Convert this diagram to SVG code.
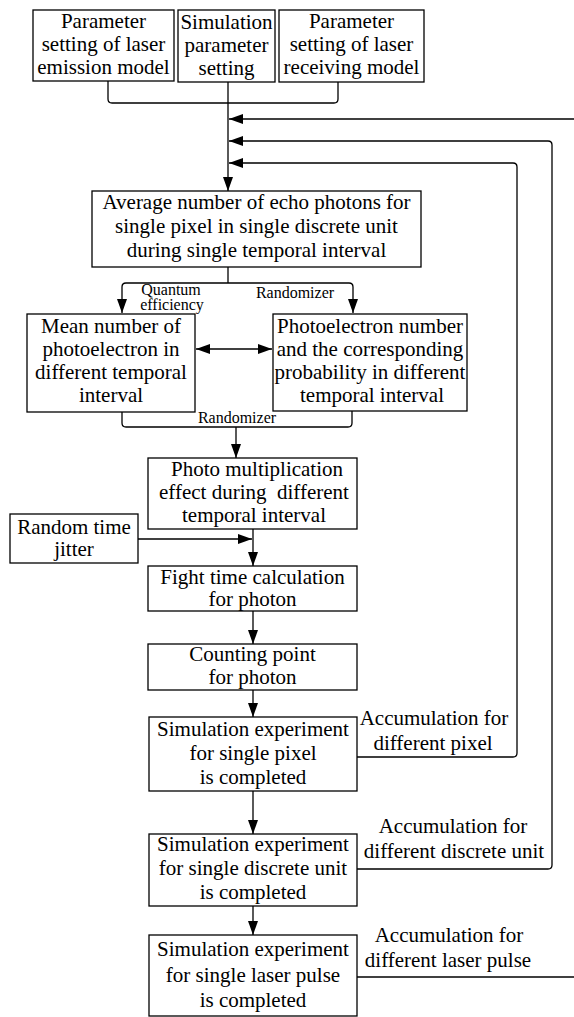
<svg xmlns="http://www.w3.org/2000/svg" width="574" height="1017" viewBox="0 0 574 1017" font-family="Liberation Serif, Times New Roman, DejaVu Serif, serif">
<defs>
<marker id="ah" viewBox="0 0 14 10" refX="14" refY="5" markerWidth="14" markerHeight="10" orient="auto-start-reverse" markerUnits="userSpaceOnUse"><path d="M0,0 L14,5 L0,10 z" fill="#000"/></marker>
</defs>
<style>
rect.box{fill:#fff;stroke:#000;stroke-width:1.3}
text{font-family:'Liberation Serif','Times New Roman','DejaVu Serif',serif;fill:#000}
text.t{font-size:21px;text-anchor:middle}
text.s{font-size:16px;text-anchor:middle}
#connectors path{fill:none;stroke:#000;stroke-width:1.3}
</style>
<rect width="574" height="1017" fill="#fff"/>
<g id="connectors">
<path d="M108,81 V99 Q108,103 112,103 H334 Q338,103 338,99 V82"/>
<path d="M228,82 V191" marker-end="url(#ah)"/>
<path d="M575,119 H229" marker-end="url(#ah)"/>
<path d="M357,869 H548 Q552,869 552,865 V145 Q552,141 548,141 H229" marker-end="url(#ah)"/>
<path d="M357,757 H513 Q517,757 517,753 V167 Q517,163 513,163 H229" marker-end="url(#ah)"/>
<path d="M357,977 H575"/>
<path d="M228,267 V283"/>
<path d="M122,313 V287 Q122,283 126,283 H349 Q353,283 353,287 V313" marker-start="url(#ah)" marker-end="url(#ah)"/>
<path d="M196,349 H272" marker-start="url(#ah)" marker-end="url(#ah)"/>
<path d="M122,412 V423 Q122,427 126,427 H348 Q352,427 352,423 V411"/>
<path d="M236,427 V458" marker-end="url(#ah)"/>
<path d="M138,539 H252" marker-end="url(#ah)"/>
<path d="M253,529 V566" marker-end="url(#ah)"/>
<path d="M253,611 V644" marker-end="url(#ah)"/>
<path d="M253,690 V717" marker-end="url(#ah)"/>
<path d="M253,791 V834" marker-end="url(#ah)"/>
<path d="M253,906 V935" marker-end="url(#ah)"/>
</g>
<g id="labels">
<text class="s" x="171" y="295">Quantum</text>
<text class="s" x="172" y="310">efficiency</text>
<text class="s" x="295" y="298">Randomizer</text>
<text class="s" x="237" y="423">Randomizer</text>
<text class="t" x="434" y="725">Accumulation for</text>
<text class="t" x="433" y="750">different pixel</text>
<text class="t" x="453" y="833">Accumulation for</text>
<text class="t" x="454" y="858">different discrete unit</text>
<text class="t" x="449" y="942">Accumulation for</text>
<text class="t" x="448" y="967">different laser pulse</text>
</g>
<g id="n1"><rect class="box" x="33" y="10" width="141" height="71"/>
<text class="t" x="103.5" y="28">Parameter</text><text class="t" x="103.5" y="51">setting of laser</text><text class="t" x="103.5" y="74">emission model</text></g>
<g id="n2"><rect class="box" x="178" y="10" width="97" height="72"/>
<text class="t" x="226.5" y="29">Simulation</text><text class="t" x="226.5" y="52">parameter</text><text class="t" x="226.5" y="75">setting</text></g>
<g id="n3"><rect class="box" x="279" y="10" width="145" height="72"/>
<text class="t" x="351.5" y="28">Parameter</text><text class="t" x="351.5" y="51">setting of laser</text><text class="t" x="351.5" y="74">receiving model</text></g>
<g id="n4"><rect class="box" x="92" y="191" width="329" height="76"/>
<text class="t" x="256.5" y="209">Average number of echo photons for</text><text class="t" x="256.5" y="233">single pixel in single discrete unit</text><text class="t" x="256.5" y="257">during single temporal interval</text></g>
<g id="n5"><rect class="box" x="27" y="314" width="168" height="98"/>
<text class="t" x="111" y="333">Mean number of</text><text class="t" x="111" y="356">photoelectron in</text><text class="t" x="111" y="379">different temporal</text><text class="t" x="111" y="402">interval</text></g>
<g id="n6"><rect class="box" x="273" y="314" width="194" height="97"/>
<text class="t" x="370" y="333">Photoelectron number</text><text class="t" x="370" y="356">and the corresponding</text><text class="t" x="370" y="379">probability in different</text><text class="t" x="372" y="402">temporal interval</text></g>
<g id="n7"><rect class="box" x="148" y="458" width="209" height="71"/>
<text class="t" x="257" y="476">Photo multiplication</text><text class="t" x="254" y="499" xml:space="preserve">effect during  different</text><text class="t" x="254" y="522">temporal interval</text></g>
<g id="n8"><rect class="box" x="10" y="514" width="128" height="49"/>
<text class="t" x="74" y="534">Random time</text><text class="t" x="74" y="556">jitter</text></g>
<g id="n9"><rect class="box" x="148" y="566" width="209" height="45"/>
<text class="t" x="252.5" y="584">Fight time calculation</text><text class="t" x="252.5" y="606">for photon</text></g>
<g id="n10"><rect class="box" x="148" y="644" width="209" height="46"/>
<text class="t" x="252.5" y="661">Counting point</text><text class="t" x="252.5" y="684">for photon</text></g>
<g id="n11"><rect class="box" x="149" y="717" width="208" height="74"/>
<text class="t" x="253" y="736">Simulation experiment</text><text class="t" x="253" y="760">for single pixel</text><text class="t" x="253" y="784">is completed</text></g>
<g id="n12"><rect class="box" x="149" y="834" width="208" height="72"/>
<text class="t" x="253" y="851">Simulation experiment</text><text class="t" x="253" y="875">for single discrete unit</text><text class="t" x="253" y="899">is completed</text></g>
<g id="n13"><rect class="box" x="149" y="935" width="208" height="81"/>
<text class="t" x="253" y="956">Simulation experiment</text><text class="t" x="253" y="982">for single laser pulse</text><text class="t" x="253" y="1007">is completed</text></g>
</svg>
